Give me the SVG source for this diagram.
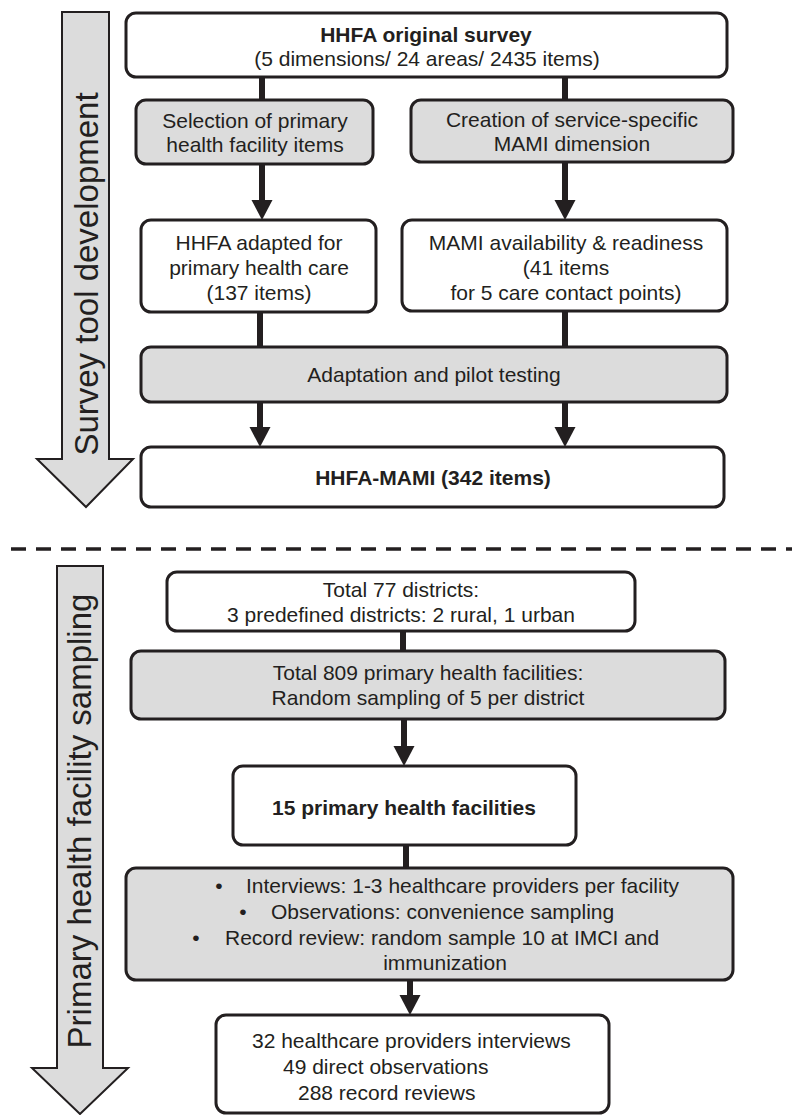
<svg xmlns="http://www.w3.org/2000/svg" width="792" height="1115" viewBox="0 0 792 1115">
<style>
.box{stroke:#231f20;stroke-width:3;}
.w{fill:#ffffff;}
.g{fill:#dcdcdc;}
.t{font-family:"Liberation Sans",Arial,sans-serif;font-size:21px;fill:#231f20;}
.c{text-anchor:middle;}
.b{font-weight:bold;}
.side{fill:#dcdcdc;stroke:#231f20;stroke-width:2;}
.st{font-family:"Liberation Sans",Arial,sans-serif;font-size:33px;fill:#231f20;text-anchor:middle;}
.con{stroke:#231f20;stroke-width:6;fill:none;}
</style>
<defs>
<marker id="ah" markerUnits="userSpaceOnUse" markerWidth="21" markerHeight="22" refX="0" refY="10.5" orient="auto" viewBox="0 0 21 22">
<path d="M0,0 L20,10.5 L0,21 z" fill="#231f20"/>
</marker>
</defs>

<g id="side-arrow-top">
<polygon class="side" points="62,12 109,12 109,459 133,459 86,507 37,459 62,459"/>
<text class="st" transform="translate(98,274) rotate(-90)">Survey tool development</text>
</g>
<g id="side-arrow-bottom">
<polygon class="side" points="57,566 103,566 103,1068 128,1068 80,1114 32,1068 57,1068"/>
<text class="st" transform="translate(91,821) rotate(-90)">Primary health facility sampling</text>
</g>

<line id="separator" x1="11" y1="549" x2="792" y2="549" stroke="#231f20" stroke-width="3.5" stroke-dasharray="15 10"/>

<g id="connectors">
<line class="con" x1="262" y1="77" x2="262" y2="100"/>
<line class="con" x1="565" y1="77" x2="565" y2="100"/>
<line class="con" x1="262" y1="164" x2="262" y2="200" marker-end="url(#ah)"/>
<line class="con" x1="565" y1="162" x2="565" y2="200" marker-end="url(#ah)"/>
<line class="con" x1="260" y1="312" x2="260" y2="347"/>
<line class="con" x1="565" y1="311" x2="565" y2="347"/>
<line class="con" x1="260" y1="402" x2="260" y2="427" marker-end="url(#ah)"/>
<line class="con" x1="565" y1="402" x2="565" y2="427" marker-end="url(#ah)"/>
<line class="con" x1="403" y1="631" x2="403" y2="651"/>
<line class="con" x1="404" y1="719" x2="404" y2="746" marker-end="url(#ah)"/>
<line class="con" x1="406" y1="845" x2="406" y2="868"/>
<line class="con" x1="410" y1="980" x2="410" y2="995" marker-end="url(#ah)"/>
</g>

<g id="n-original">
<rect class="box w" x="126" y="13" width="601" height="64" rx="10"/>
<text class="t c b" x="426" y="42">HHFA original survey</text>
<text class="t c" x="427" y="66">(5 dimensions/ 24 areas/ 2435 items)</text>
</g>
<g id="n-selection">
<rect class="box g" x="136" y="100" width="237" height="64" rx="10"/>
<text class="t c" x="255" y="128">Selection of primary</text>
<text class="t c" x="255" y="152">health facility items</text>
</g>
<g id="n-creation">
<rect class="box g" x="411" y="100" width="322" height="62" rx="10"/>
<text class="t c" x="572" y="127">Creation of service-specific</text>
<text class="t c" x="572" y="151">MAMI dimension</text>
</g>
<g id="n-adapted">
<rect class="box w" x="141" y="220" width="235" height="92" rx="10"/>
<text class="t c" x="259" y="250">HHFA adapted for</text>
<text class="t c" x="259" y="275">primary health care</text>
<text class="t c" x="259" y="300">(137 items)</text>
</g>
<g id="n-mami">
<rect class="box w" x="402" y="220" width="325" height="91" rx="10"/>
<text class="t c" x="566" y="250">MAMI availability &amp; readiness</text>
<text class="t c" x="566" y="275">(41 items</text>
<text class="t c" x="566" y="300">for 5 care contact points)</text>
</g>
<g id="n-pilot">
<rect class="box g" x="141" y="347" width="586" height="55" rx="10"/>
<text class="t c" x="434" y="382">Adaptation and pilot testing</text>
</g>
<g id="n-hhfamami">
<rect class="box w" x="141" y="447" width="583" height="60" rx="10"/>
<text class="t c b" x="433" y="485">HHFA-MAMI (342 items)</text>
</g>

<g id="n-districts">
<rect class="box w" x="167" y="572" width="468" height="59" rx="10"/>
<text class="t c" x="401" y="597">Total 77 districts:</text>
<text class="t c" x="401" y="622">3 predefined districts: 2 rural, 1 urban</text>
</g>
<g id="n-facilities">
<rect class="box g" x="131" y="651" width="594" height="68" rx="10"/>
<text class="t c" x="428" y="680">Total 809 primary health facilities:</text>
<text class="t c" x="428" y="705">Random sampling of 5 per district</text>
</g>
<g id="n-15">
<rect class="box w" x="233" y="766" width="343" height="79" rx="10"/>
<text class="t c b" x="404" y="815">15 primary health facilities</text>
</g>
<g id="n-methods">
<rect class="box g" x="126" y="868" width="607" height="112" rx="10"/>
<text class="t c" x="219" y="893">•</text>
<text class="t" x="246" y="893">Interviews: 1-3 healthcare providers per facility</text>
<text class="t c" x="243" y="919">•</text>
<text class="t" x="271" y="919">Observations: convenience sampling</text>
<text class="t c" x="196" y="945">•</text>
<text class="t" x="225" y="945">Record review: random sample 10 at IMCI and</text>
<text class="t c" x="445" y="970">immunization</text>
</g>
<g id="n-results">
<rect class="box w" x="216" y="1015" width="393" height="98" rx="10"/>
<text class="t" x="252" y="1048">32 healthcare providers interviews</text>
<text class="t" x="283" y="1074">49 direct observations</text>
<text class="t" x="298" y="1100">288 record reviews</text>
</g>
</svg>
